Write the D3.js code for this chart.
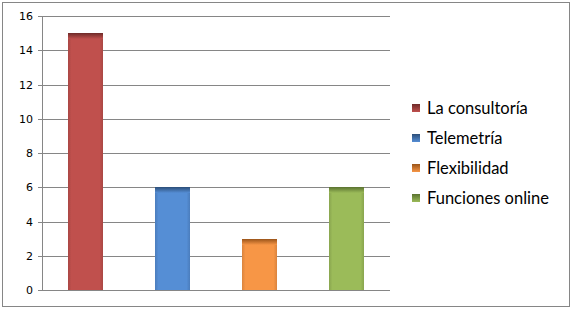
<!DOCTYPE html>
<html>
<head>
<meta charset="utf-8">
<script src="https://cdn.jsdelivr.net/npm/d3@7"></script>
<style>
  body { margin: 0; background: #fff; }
  svg { display: block; }
</style>
</head>
<body>
<script>
// data
const categories = ["La consultoría", "Telemetría", "Flexibilidad", "Funciones online"];
const values = [15, 6, 3, 6];
const barColors = ["#C0504D", "#558ED5", "#F79646", "#9BBB59"];
const capColors = ["#6E2A28", "#2C4E78", "#9A5419", "#5A7230"];
const yTicks = [0, 2, 4, 6, 8, 10, 12, 14, 16];

const width = 572, height = 309;
const margin = {top: 16, right: 182, bottom: 19, left: 42};
const plotW = width - margin.left - margin.right;
const plotH = height - margin.top - margin.bottom;

const svg = d3.select("body").append("svg")
    .attr("width", width)
    .attr("height", height);

// outer frame
svg.append("rect")
    .attr("x", 2.5).attr("y", 2.5)
    .attr("width", width - 5).attr("height", height - 5)
    .attr("fill", "#fff")
    .attr("stroke", "#868686");

const defs = svg.append("defs");
barColors.forEach(function(c, i) {
    const g = defs.append("linearGradient")
        .attr("id", "grad" + i)
        .attr("x1", 0).attr("x2", 1).attr("y1", 0).attr("y2", 0);
    const dark = d3.color(c).darker(0.35);
    g.append("stop").attr("offset", "0%").attr("stop-color", dark);
    g.append("stop").attr("offset", "10%").attr("stop-color", c);
    g.append("stop").attr("offset", "90%").attr("stop-color", c);
    g.append("stop").attr("offset", "100%").attr("stop-color", dark);

    const cap = defs.append("linearGradient")
        .attr("id", "cap" + i)
        .attr("x1", 0).attr("x2", 0).attr("y1", 0).attr("y2", 1);
    cap.append("stop").attr("offset", "0%").attr("stop-color", capColors[i]);
    cap.append("stop").attr("offset", "100%").attr("stop-color", c);
});

const x = d3.scaleBand()
    .domain(categories)
    .range([0, plotW])
    .paddingInner(0.6)
    .paddingOuter(0.3);

const y = d3.scaleLinear()
    .domain([0, 16])
    .range([plotH, 0]);

const g = svg.append("g")
    .attr("transform", `translate(${margin.left},${margin.top})`);

// gridlines
g.append("g")
    .selectAll("line")
    .data(yTicks)
    .enter().append("line")
    .attr("x1", -4).attr("x2", plotW)
    .attr("y1", d => Math.round(y(d)) + 0.5)
    .attr("y2", d => Math.round(y(d)) + 0.5)
    .attr("stroke", "#868686");

// y axis line
g.append("line")
    .attr("x1", 0.5).attr("x2", 0.5)
    .attr("y1", 0).attr("y2", plotH)
    .attr("stroke", "#868686");

// tick labels
g.append("g")
    .selectAll("text")
    .data(yTicks)
    .enter().append("text")
    .attr("x", -9)
    .attr("y", d => Math.round(y(d)))
    .attr("dy", "0.36em")
    .attr("text-anchor", "end")
    .style("font-family", "DejaVu Sans, Verdana, sans-serif")
    .style("font-size", "11px")
    .attr("fill", "#000")
    .text(d => d);

// bars
const bars = g.append("g")
    .selectAll("g")
    .data(values)
    .enter().append("g");

bars.append("rect")
    .attr("x", (d, i) => Math.round(x(categories[i])))
    .attr("y", d => Math.round(y(d)))
    .attr("width", Math.round(x.bandwidth()))
    .attr("height", d => plotH - Math.round(y(d)))
    .attr("fill", (d, i) => "url(#grad" + i + ")");

bars.append("rect")
    .attr("x", (d, i) => Math.round(x(categories[i])))
    .attr("y", d => Math.round(y(d)))
    .attr("width", Math.round(x.bandwidth()))
    .attr("height", 6)
    .attr("fill", (d, i) => "url(#cap" + i + ")");

// legend
const legend = svg.append("g")
    .attr("transform", "translate(412,108)");

const items = legend.selectAll("g")
    .data(categories)
    .enter().append("g")
    .attr("transform", (d, i) => `translate(0,${i * 30})`);

items.append("rect")
    .attr("x", 0).attr("y", -4)
    .attr("width", 8).attr("height", 8)
    .attr("fill", (d, i) => "url(#cap" + i + ")");

items.append("text")
    .attr("x", 15)
    .attr("y", 0)
    .attr("dy", "0.35em")
    .style("font-family", "Lato, sans-serif")
    .style("font-size", "16.5px")
    .attr("fill", "#000")
    .text(d => d);
</script>
</body>
</html>
